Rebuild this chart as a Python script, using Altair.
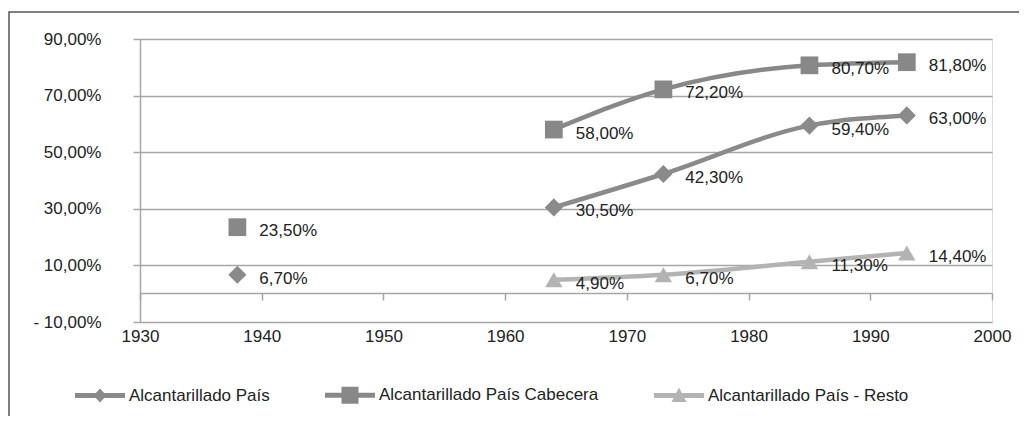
import altair as alt
import pandas as pd

# ---- data ----
anios = [1938, 1964, 1973, 1985, 1993]
series = ["Alcantarillado País", "Alcantarillado País Cabecera", "Alcantarillado País - Resto"]
pais = [6.7, 30.5, 42.3, 59.4, 63.0]
cabecera = [23.5, 58.0, 72.2, 80.7, 81.8]
resto = [None, 4.9, 6.7, 11.3, 14.4]
x_ticks = [1930, 1940, 1950, 1960, 1970, 1980, 1990, 2000]
y_ticks = [-10, 10, 30, 50, 70, 90]

colores = ["#8a8a8a", "#888888", "#b3b3b3"]
formas_punto = ["diamond", "square", "triangle-up"]
tamanos_punto = [330, 300, 340]
# legend symbols: line + marker drawn as one path (unit box -1..1)
formas_leyenda = [
    "M-1,-0.1H1V0.1H-1Z M-0.26,0L0,-0.28L0.26,0L0,0.28Z",
    "M-1,-0.1H1V0.1H-1Z M-0.34,-0.34H0.34V0.34H-0.34Z",
    "M-1,-0.1H1V0.1H-1Z M0,-0.32L0.3,0.26L-0.3,0.26Z",
]

rows = []
for s, vals in zip(series, [pais, cabecera, resto]):
    for a, v in zip(anios, vals):
        if v is not None:
            rows.append({"anio": a, "valor": v, "serie": s})
df = pd.DataFrame(rows)

FONT = "Liberation Sans"
W, H = 852, 283
GRID = "#a6a6a6"

x_enc = alt.X("anio:Q", scale=alt.Scale(domain=[1930, 2000], nice=False, zero=False),
              axis=alt.Axis(values=x_ticks, format="d", title=None, grid=False,
                            offset=-29, domainColor=GRID, domainWidth=1.5,
                            tickColor=GRID, tickWidth=1.5, tickSize=7,
                            labelPadding=28, labelFlush=False, labelFont=FONT,
                            labelFontSize=17, labelColor="#222222"))
y_enc = alt.Y("valor:Q", scale=alt.Scale(domain=[-10, 90], nice=False, zero=False),
              axis=alt.Axis(values=y_ticks, title=None, grid=True, gridColor=GRID,
                            gridWidth=1.5, domainColor=GRID, domainWidth=1.5,
                            tickColor=GRID, tickWidth=1.5, tickSize=7,
                            labelPadding=32, labelFlush=False, labelFont=FONT,
                            labelFontSize=17, labelColor="#222222",
                            labelExpr="(datum.value < 0 ? '- ' : '') + replace(format(abs(datum.value), '.2f'), '.', ',') + '%'"))

color_nolegend = alt.Color("serie:N", scale=alt.Scale(domain=series, range=colores), legend=None)

base = alt.Chart(df)

lineas = base.transform_filter("datum.anio > 1950").mark_line(
    strokeWidth=4.5, interpolate="monotone"
).encode(x=x_enc, y=y_enc, color=color_nolegend, detail="serie:N")

puntos = base.mark_point(filled=True, opacity=1, strokeWidth=0).encode(
    x=x_enc, y=y_enc, color=color_nolegend,
    shape=alt.Shape("serie:N", scale=alt.Scale(domain=series, range=formas_punto), legend=None),
    size=alt.Size("serie:N", scale=alt.Scale(domain=series, range=tamanos_punto), legend=None),
)

etiquetas = base.transform_calculate(
    etiqueta="replace(format(datum.valor, '.2f'), '.', ',') + '%'"
).mark_text(align="left", baseline="middle", dx=22, dy=4, font=FONT,
            fontSize=17, color="#222222").encode(x=x_enc, y=y_enc, text="etiqueta:N")

# legend-only layer: no rows drawn, the legend comes from the fixed scale domain
leyenda = base.transform_filter("datum.anio < 0").mark_point(
    filled=True, opacity=1, strokeWidth=0
).encode(
    x=x_enc, y=y_enc,
    color=alt.Color("serie:N", scale=alt.Scale(domain=series, range=colores),
                    legend=alt.Legend(title=None, orient="none", legendX=-65, legendY=331,
                                      direction="horizontal", columnPadding=55,
                                      labelOffset=4, symbolSize=2500, symbolOpacity=1,
                                      symbolStrokeWidth=0, labelFont=FONT, labelLimit=0,
                                      labelFontSize=17, labelColor="#222222",
                                      padding=0)),
    shape=alt.Shape("serie:N", scale=alt.Scale(domain=series, range=formas_leyenda)),
)

marco = alt.Chart(pd.DataFrame({"k": [0]})).mark_rect(
    fill=None, stroke="#555555", strokeWidth=1.5
).encode(x=alt.value(-131), x2=alt.value(W + 200), y=alt.value(-27), y2=alt.value(H + 200))

chart = alt.layer(marco, lineas, puntos, etiquetas, leyenda).resolve_scale(
    color="independent", shape="independent", size="independent"
).properties(
    width=W, height=H,
    autosize=alt.AutoSizeParams(type="none"),
    padding={"left": 132, "top": 31, "right": 27, "bottom": 94},
).configure_view(stroke=None).configure(background="white")

chart.save("out.html", embed_options={"renderer": "svg", "actions": False})
